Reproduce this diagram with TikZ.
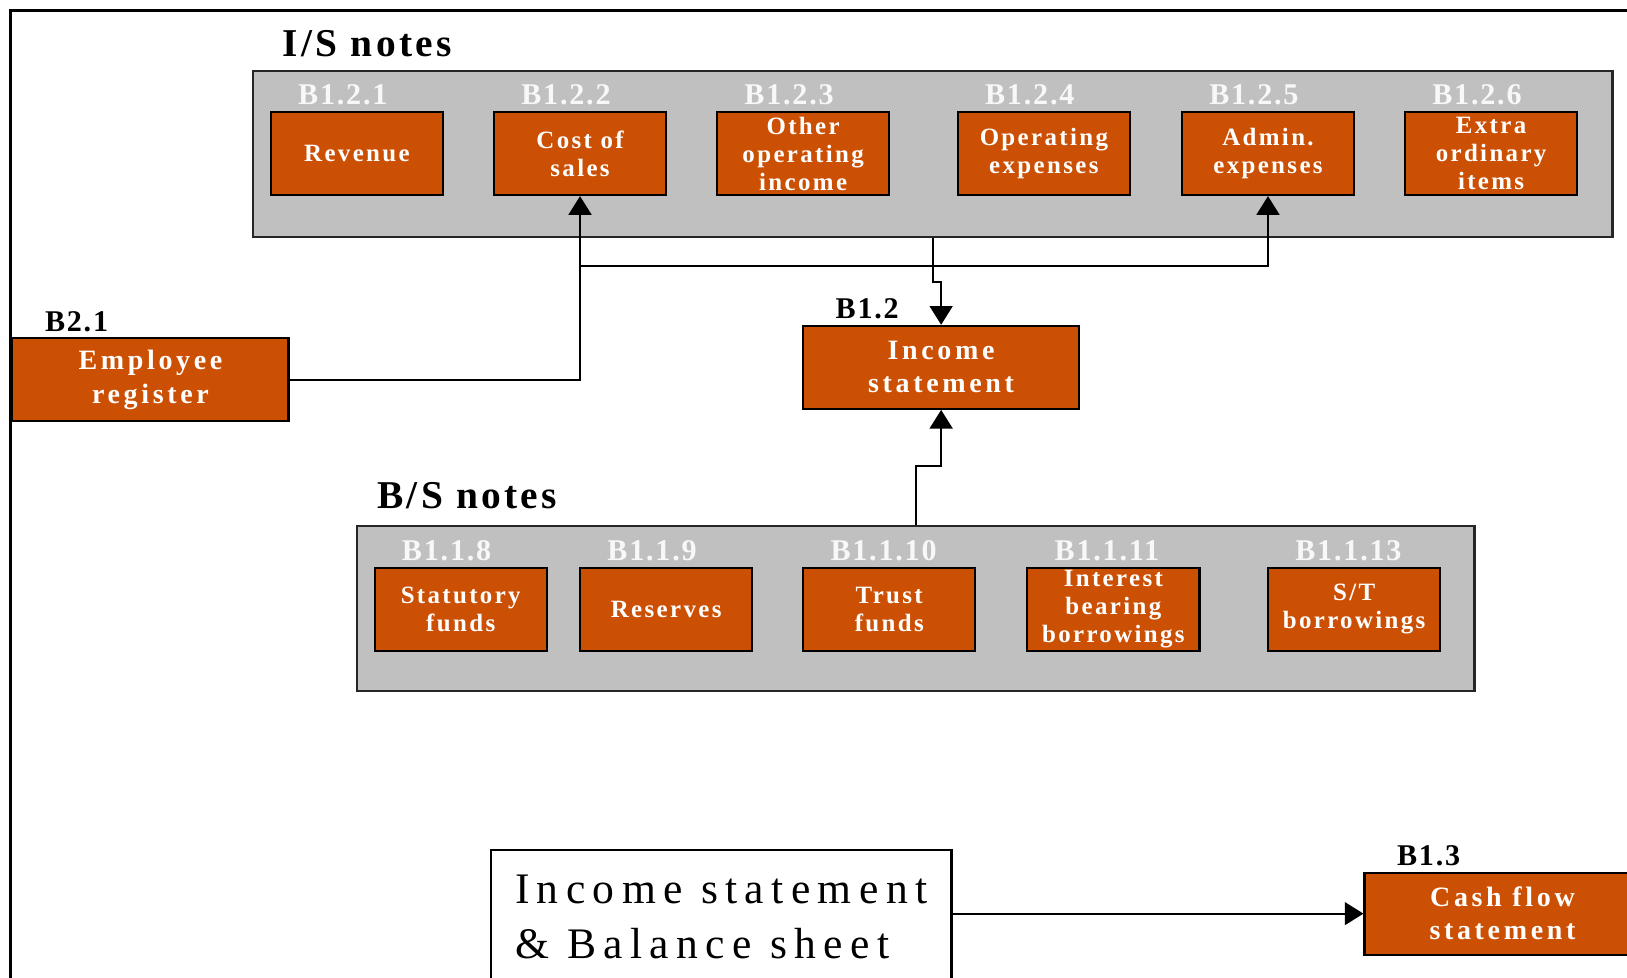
\documentclass[tikz,border=0pt]{standalone}
\usepackage{fontspec}
\setmainfont{Liberation Serif}
\newfontfamily\hdfont[LetterSpace=8.5]{Liberation Serif}
\newfontfamily\lbfont[LetterSpace=6]{Liberation Serif}
\newfontfamily\bxfont[LetterSpace=9.5]{Liberation Serif}
\newfontfamily\bgfont[LetterSpace=13]{Liberation Serif}
\newfontfamily\btfont[LetterSpace=17]{Liberation Serif}
\usetikzlibrary{arrows.meta,calc}
\definecolor{boxor}{HTML}{CC5004}
\definecolor{grpgray}{HTML}{C0C0C0}
\definecolor{lblgray}{HTML}{F8F8F8}
\tikzset{
  obox/.style={draw=black, line width=1pt, fill=boxor, text=white, align=center, inner sep=0pt,
    minimum width=83pt, minimum height=40pt, anchor=north west,
    font=\bxfont\bfseries\fontsize{12}{13.5}\selectfont},
  bbox/.style={obox, minimum width=133pt, font=\bgfont\bfseries\fontsize{13.5}{16}\selectfont},
  grp/.style={draw=black!85, line width=1pt, fill=grpgray, anchor=north west, inner sep=0pt},
  glbl/.style={anchor=base west, inner sep=0pt, text=lblgray, font=\lbfont\bfseries\fontsize{14.5}{16}\selectfont},
  klbl/.style={glbl, text=black},
  head/.style={anchor=base west, inner sep=0pt, font=\hdfont\bfseries\fontsize{19}{22}\selectfont},
  conn/.style={line width=1pt, -{Triangle[width=11pt,length=9pt]}},
  wbox/.style={draw=black, line width=1pt, fill=white, anchor=north west, inner sep=0pt, align=left,
    minimum width=222pt, minimum height=65pt, font=\btfont\fontsize{21}{26.5}\selectfont}
}
\begin{document}
\begin{tikzpicture}[x=0.5pt,y=-0.5pt]
\clip (0,0) rectangle (1568,942);
\fill[white] (0,0) rectangle (1568,942);
% outer frame
\draw[line width=1.1pt] (10,1000) -- (10,10) -- (1600,10);

% I/S notes group
\node[head] (ishead) at (272,54) {I/S notes};
\node[grp, minimum width=655pt, minimum height=80pt] (isg) at (243,67) {};
\node[obox] (rev) at (260,107) {Revenue};
\node[obox] (cos) at (475,107) {Cost of\\sales};
\node[obox] (ooi) at (690,107) {Other\\operating\\income};
\node[obox] (ope) at (922,107) {Operating\\expenses};
\node[obox] (adm) at (1138,107) {Admin.\\expenses};
\node[obox] (exo) at (1353,107) {Extra\\ordinary\\items};
\node[glbl] (l1) at ($(rev.north west)+(27,-6)$) {B1.2.1};
\node[glbl] (l2) at ($(cos.north west)+(27,-6)$) {B1.2.2};
\node[glbl] (l3) at ($(ooi.north west)+(27,-6)$) {B1.2.3};
\node[glbl] (l4) at ($(ope.north west)+(27,-6)$) {B1.2.4};
\node[glbl] (l5) at ($(adm.north west)+(27,-6)$) {B1.2.5};
\node[glbl] (l6) at ($(exo.north west)+(27,-6)$) {B1.2.6};

% Employee register
\node[bbox] (emp) at (11,325) {Employee\\register};
\node[klbl] (lemp) at ($(emp.north west)+(32,-6)$) {B2.1};

% Income statement
\node[bbox] (inc) at (773,313) {Income\\statement};
\node[klbl] (linc) at ($(inc.north west)+(32,-6)$) {B1.2};

% B/S notes group
\node[head] (bshead) at (363,490) {B/S notes};
\node[grp, minimum width=538.5pt, minimum height=79.5pt] (bsg) at (343,506) {};
\node[obox] (stf) at (360,546) {Statutory\\funds};
\node[obox] (res) at (558,546) {Reserves};
\node[obox] (trf) at (773,546) {Trust\\funds};
\node[obox] (ibb) at (989,546) {Interest\\bearing\\borrowings};
\node[obox] (stb) at (1221,546) {S/T\\borrowings};
\node[glbl] (m1) at ($(stf.north west)+(27,-6)$) {B1.1.8};
\node[glbl] (m2) at ($(res.north west)+(27,-6)$) {B1.1.9};
\node[glbl] (m3) at ($(trf.north west)+(27,-6)$) {B1.1.10};
\node[glbl] (m4) at ($(ibb.north west)+(27,-6)$) {B1.1.11};
\node[glbl] (m5) at ($(stb.north west)+(27,-6)$) {B1.1.13};

% bottom
\node[wbox] (fin) at (472,818) {Income statement\\\& Balance sheet};
\node[bbox, minimum height=39.5pt] (cfs) at (1314,840) {Cash flow\\statement};
\node[klbl] (lcfs) at ($(cfs.north west)+(32,-6)$) {B1.3};

% connectors
\coordinate (hj) at (558,256);
\draw[conn] (emp.east) -| (cos.south);
\draw[conn] (cos.south |- hj) -| (adm.south);
\draw[conn] (isg.south) -- ++(0,43) -| (inc.north);
\draw[conn] (bsg.north) -- ++(0,-57) -| (inc.south);
\draw[conn] (fin.east |- cfs.west) -- (cfs.west);
\end{tikzpicture}
\end{document}
